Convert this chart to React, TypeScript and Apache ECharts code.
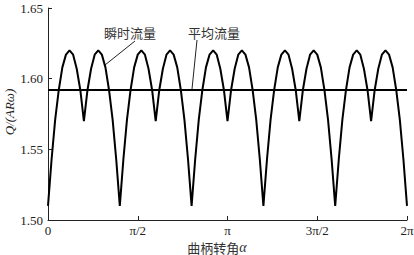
import React, { useEffect, useRef } from "react";
import * as echarts from "echarts";

// crank angle sampled every π/50 (3.6°), 0 … 2π
const STEP = Math.PI / 50;
// instantaneous flow Q/(ARω)
const flow = [
  1.510, 1.543, 1.571, 1.592, 1.608, 1.617, 1.620, 1.617, 1.607, 1.592,
  1.570, 1.592, 1.607, 1.617, 1.620, 1.617, 1.608, 1.592, 1.571, 1.543,
  1.510, 1.543, 1.571, 1.592, 1.608, 1.617, 1.620, 1.617, 1.607, 1.592,
  1.570, 1.592, 1.607, 1.617, 1.620, 1.617, 1.608, 1.592, 1.571, 1.543,
  1.510, 1.543, 1.571, 1.592, 1.608, 1.617, 1.620, 1.617, 1.607, 1.592,
  1.570, 1.592, 1.607, 1.617, 1.620, 1.617, 1.608, 1.592, 1.571, 1.543,
  1.510, 1.543, 1.571, 1.592, 1.608, 1.617, 1.620, 1.617, 1.607, 1.592,
  1.570, 1.592, 1.607, 1.617, 1.620, 1.617, 1.608, 1.592, 1.571, 1.543,
  1.510, 1.543, 1.571, 1.592, 1.608, 1.617, 1.620, 1.617, 1.607, 1.592,
  1.570, 1.592, 1.607, 1.617, 1.620, 1.617, 1.608, 1.592, 1.571, 1.543,
  1.510,
];
const meanFlow = 1.592;
const xTickLabels = ["0", "π/2", "π", "3π/2", "2π"];
const yMin = 1.5;
const yMax = 1.65;
const yInterval = 0.05;

const SERIF = "'Liberation Serif', 'DejaVu Serif', serif";
const CJK = "'Noto Sans CJK SC', sans-serif";

export default function App() {
  const ref = useRef<HTMLDivElement>(null);
  useEffect(() => {
    if (!ref.current) return;
    const chart = echarts.init(ref.current, null, { renderer: "svg" });
    const flowData = flow.map((v, i) => [i * STEP, v]);
    const meanData = [
      [0, meanFlow],
      [2 * Math.PI, meanFlow],
    ];
    const axisColor = "#222";
    chart.setOption({
      animation: false,
      backgroundColor: "#fff",
      grid: {
        left: 48,
        right: 7,
        top: 8,
        bottom: 35,
        containLabel: false,
        outerBoundsMode: "none",
      },
      xAxis: {
        type: "value",
        min: 0,
        max: 2 * Math.PI,
        interval: Math.PI / 2,
        axisLine: { lineStyle: { color: axisColor, width: 1 } },
        axisTick: { inside: true, length: 4, lineStyle: { color: axisColor } },
        splitLine: { show: false },
        axisLabel: {
          color: "#222",
          fontFamily: SERIF,
          fontSize: 13,
          lineHeight: 13,
          margin: 4,
          formatter: (v: number) => xTickLabels[Math.round(v / (Math.PI / 2))] ?? "",
        },
      },
      yAxis: {
        type: "value",
        min: yMin,
        max: yMax,
        interval: yInterval,
        axisLine: { show: true, lineStyle: { color: axisColor, width: 1 } },
        axisTick: { show: true, inside: true, length: 4, lineStyle: { color: axisColor } },
        splitLine: { show: false },
        axisLabel: {
          color: "#222",
          fontFamily: SERIF,
          fontSize: 13,
          margin: 5,
          formatter: (v: number) => v.toFixed(2),
        },
      },
      series: [
        {
          name: "瞬时流量",
          type: "line",
          data: flowData,
          showSymbol: false,
          lineStyle: { color: "#000", width: 2 },
          z: 3,
        },
        {
          name: "平均流量",
          type: "line",
          data: meanData,
          showSymbol: false,
          lineStyle: { color: "#000", width: 2 },
          z: 2,
        },
      ],
      graphic: [
        {
          type: "text",
          x: 9,
          y: 112,
          rotation: Math.PI / 2,
          style: {
            text: "Q/(ARω)",
            fill: "#222",
            font: `italic 13px ${SERIF}`,
            align: "center",
            verticalAlign: "middle",
          },
        },
        {
          type: "text",
          x: 130,
          y: 32,
          style: {
            text: "瞬时流量",
            fill: "#333",
            font: `13px ${CJK}`,
            align: "center",
            verticalAlign: "middle",
          },
        },
        {
          type: "line",
          shape: { x1: 135, y1: 41, x2: 105, y2: 65 },
          style: { stroke: "#222", lineWidth: 1 },
        },
        {
          type: "text",
          x: 214,
          y: 32,
          style: {
            text: "平均流量",
            fill: "#333",
            font: `13px ${CJK}`,
            align: "center",
            verticalAlign: "middle",
          },
        },
        {
          type: "line",
          shape: { x1: 197, y1: 40, x2: 192, y2: 89 },
          style: { stroke: "#222", lineWidth: 1 },
        },
        {
          type: "text",
          x: 217,
          y: 247,
          style: {
            text: "{a|曲柄转角}{b|α}",
            align: "center",
            verticalAlign: "middle",
            rich: {
              a: { fill: "#333", font: `13px ${CJK}`, lineHeight: 14 },
              b: { fill: "#333", font: `italic 14px ${SERIF}`, lineHeight: 14 },
            },
          },
        },
      ],
    });
    return () => chart.dispose();
  }, []);
  return (
    <div
      ref={ref}
      style={{ position: "fixed", left: 0, top: 0, width: 414, height: 255 }}
    />
  );
}
